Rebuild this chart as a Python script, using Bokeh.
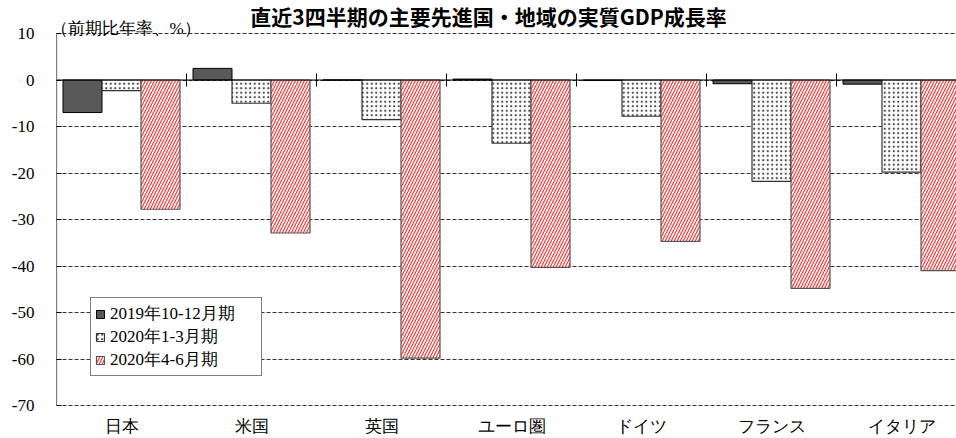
import math
from bokeh.plotting import figure
from bokeh.models import (Range1d, FixedTicker, Legend, LegendItem,
                          Label, ColumnDataSource)
from bokeh.core.properties import value
from bokeh.embed import file_html
from bokeh.resources import INLINE

# ---------------- data ----------------
categories = ["日本", "米国", "英国", "ユーロ圏", "ドイツ", "フランス", "イタリア"]
series_names = ["2019年10-12月期", "2020年1-3月期", "2020年4-6月期"]
q4_2019 = [-7.0, 2.5, 0.0, 0.2, -0.1, -0.8, -0.9]
q1_2020 = [-2.3, -5.0, -8.5, -13.6, -7.8, -21.8, -19.8]
q2_2020 = [-27.8, -32.9, -59.8, -40.3, -34.7, -44.8, -41.0]
y_ticks = [10, 0, -10, -20, -30, -40, -50, -60, -70]
title_text = "直近3四半期の主要先進国・地域の実質GDP成長率"
unit_text = "（前期比年率、%）"

# ---------------- layout ----------------
W, H = 956, 438
FL = 56
AX_TOP_PX, AX_BOT_PX = 33, 405   # pixel rows of the top (10) and bottom (-70) ticks
FW = W - FL
CAT_PX = 130.0
Y_MIN, Y_MAX = min(y_ticks), max(y_ticks)
PX_PER_UNIT = (AX_BOT_PX - AX_TOP_PX) / (Y_MAX - Y_MIN)
Y_TOP = Y_MAX + AX_TOP_PX / PX_PER_UNIT
Y_BOT = Y_MIN - (H - AX_BOT_PX) / PX_PER_UNIT
x_end = FW / CAT_PX

def px_x(px):
    return (px - FL) / CAT_PX

def px_y(py):
    return Y_TOP - py / PX_PER_UNIT

SERIF = "Liberation Serif"

p = figure(width=W, height=H, x_range=Range1d(0, x_end), y_range=Range1d(Y_BOT, Y_TOP),
           toolbar_location=None, output_backend="svg", x_axis_location=None,
           min_border_left=FL, min_border_right=0, min_border_top=0, min_border_bottom=0,
           title=None)
p.outline_line_color = None
p.background_fill_color = "white"
p.border_fill_color = "white"

# grid
p.xgrid.visible = False
p.ygrid.ticker = FixedTicker(ticks=y_ticks)
p.ygrid.grid_line_color = "#333333"
p.ygrid.grid_line_dash = "4 2"
p.ygrid.grid_line_width = 1

# y axis
ya = p.yaxis[0]
ya.ticker = FixedTicker(ticks=y_ticks)
ya.major_label_overrides = {t: str(t) for t in y_ticks}
ya.major_tick_in = 5
ya.major_tick_out = 0
ya.major_tick_line_color = "black"
ya.minor_tick_line_color = None
ya.axis_line_color = None
ya.major_label_standoff = 22
ya.major_label_text_font = SERIF
ya.major_label_text_font_size = "17px"
ya.major_label_text_color = "black"
p.segment(x0=[0], y0=[Y_MIN], x1=[0], y1=[Y_MAX], line_color="black", line_width=1.2)

# bars
centers = [i + 0.5 for i in range(len(categories))]
bw = 0.3
offs = [-0.3, 0.0, 0.3]
src = ColumnDataSource(dict(
    x0=[c + offs[0] for c in centers], x1=[c + offs[1] for c in centers],
    x2=[c + offs[2] for c in centers],
    a=q4_2019, b=q1_2020, c=q2_2020))

r1 = p.vbar(x="x0", top="a", bottom=0, width=bw, source=src,
            fill_color="#595959", line_color="black", line_width=1)
r2 = p.vbar(x="x1", top="b", bottom=0, width=bw, source=src,
            fill_color="white", line_color="#333333", line_width=1.2,
            hatch_pattern="dot", hatch_color="#4a4a4a", hatch_scale=4.5, hatch_weight=2.5)
r3 = p.vbar(x="x2", top="c", bottom=0, width=bw, source=src,
            fill_color="white", line_color="#555555", line_width=1.2,
            hatch_pattern="right_diagonal_line", hatch_color="#ff2a2a",
            hatch_scale=6, hatch_weight=1.1)

# zero line with category ticks
p.segment(x0=[0], y0=[0], x1=[x_end], y1=[0], line_color="black", line_width=1.2)
bounds = list(range(1, len(categories)))
p.scatter(x=bounds, y=[0] * len(bounds), marker="dash", angle=math.pi / 2, size=13,
          line_color="black", line_width=1)

# category labels
p.text(x=centers, y=[px_y(426)] * len(centers), text=categories,
       text_align="center", text_baseline="middle", text_font=value(SERIF),
       text_font_size="17px", text_color="black")

# legend
legend = Legend(items=[LegendItem(label=series_names[0], renderers=[r1]),
                       LegendItem(label=series_names[1], renderers=[r2]),
                       LegendItem(label=series_names[2], renderers=[r3])],
                location=(34, H - 376))
legend.glyph_width = 10
legend.glyph_height = 10
legend.label_standoff = 5
legend.label_height = 18
legend.label_width = 147
legend.spacing = 0
legend.padding = 4
legend.margin = 0
legend.label_text_font = SERIF
legend.label_text_font_size = "17px"
legend.label_text_color = "black"
legend.border_line_color = "black"
legend.border_line_width = 1
legend.background_fill_color = "white"
legend.background_fill_alpha = 1
p.add_layout(legend, "center")

# title
p.add_layout(Label(x=px_x(488), y=px_y(0), text=title_text, text_align="center",
                   text_baseline="top", text_font="Noto Sans CJK JP",
                   text_font_style="bold", text_font_size="21px", text_color="black"))
# unit label
p.add_layout(Label(x=px_x(50), y=px_y(28), text=unit_text, text_align="left",
                   text_baseline="alphabetic", text_font=SERIF,
                   text_font_size="17px", text_color="black"))

open("out.html", "w").write(file_html(p, INLINE))
